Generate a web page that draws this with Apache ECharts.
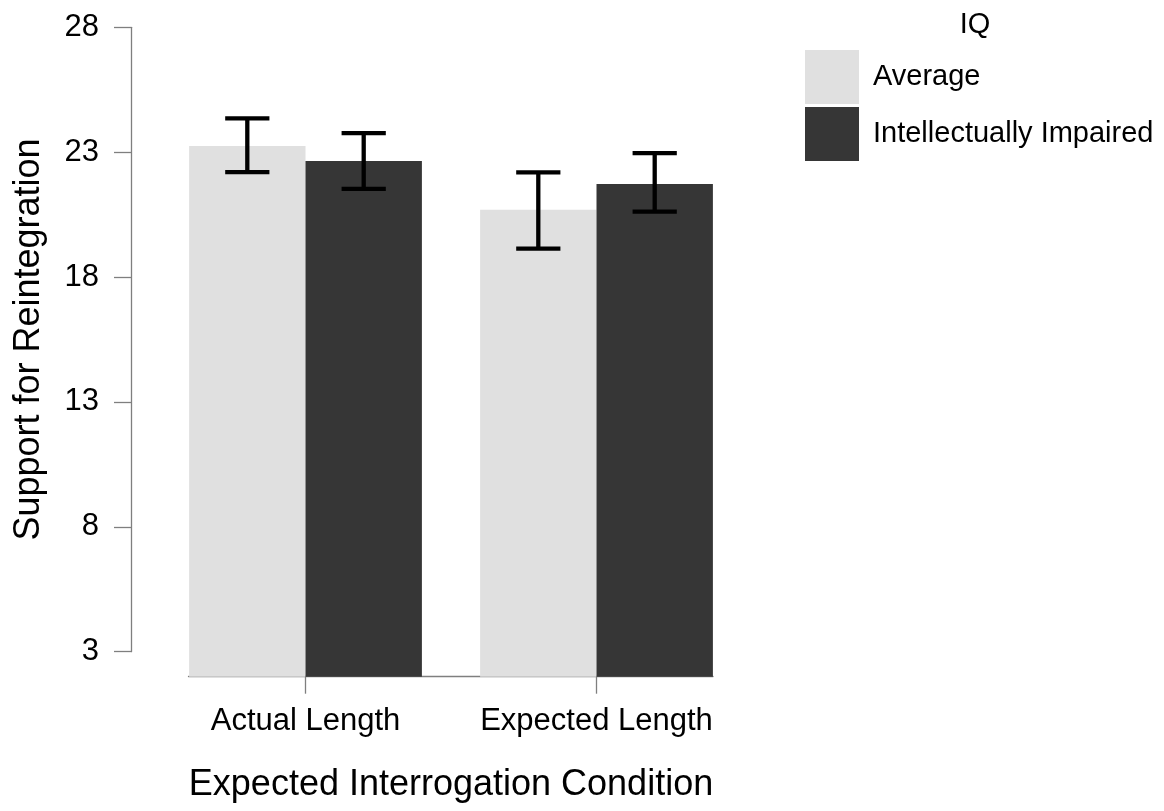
<!DOCTYPE html>
<html>
<head>
<meta charset="utf-8">
<script src="https://cdn.jsdelivr.net/npm/echarts@6/dist/echarts.min.js"></script>
<style>
  html, body { margin: 0; padding: 0; background: #fff; }
  #chart { width: 1164px; height: 811px; }
</style>
</head>
<body>
<div id="chart"></div>
<script>
// 数据
const conditions = ["Actual Length", "Expected Length"];
const groups = ["Average", "Intellectually Impaired"];
const avgMean = [23.25, 20.7];
const avgLower = [22.2, 19.14];
const avgUpper = [24.35, 22.19];
const iiMean = [22.65, 21.73];
const iiLower = [21.53, 20.62];
const iiUpper = [23.76, 22.96];
const yTicks = [3, 28, 5]; // min, max, interval

const font = "Liberation Sans";
const axisGray = "#7f7f7f";

// 误差线
const errorBar = (side) => (params, api) => {
  const x = api.value(0);
  const lo = api.coord([x, api.value(1)]);
  const hi = api.coord([x, api.value(2)]);
  const band = api.size([1, 0])[0];
  const cx = lo[0] + side * band * 0.2;
  const half = band * 0.076;
  const style = { stroke: "#000", lineWidth: 4.3 };
  return {
    type: "group",
    children: [
      { type: "line", shape: { x1: cx, y1: hi[1], x2: cx, y2: lo[1] }, style },
      { type: "line", shape: { x1: cx - half, y1: hi[1], x2: cx + half, y2: hi[1] }, style },
      { type: "line", shape: { x1: cx - half, y1: lo[1], x2: cx + half, y2: lo[1] }, style },
    ],
  };
};

const myChart = echarts.init(document.querySelector("#chart"));

myChart.setOption({
  animation: false,
  textStyle: { fontFamily: font },
  title: {
    text: "IQ",
    left: 975,
    top: 10,
    padding: 0,
    textAlign: "center",
    textStyle: { fontFamily: font, fontSize: 29, fontWeight: "normal", color: "#000" },
  },
  legend: {
    data: groups,
    orient: "vertical",
    left: 805,
    top: 50,
    padding: 0,
    itemWidth: 54,
    itemHeight: 54,
    itemGap: 3,
    icon: "rect",
    textStyle: { fontFamily: font, fontSize: 29, color: "#000", padding: [0, 0, 0, 9] },
  },
  grid: [
    // 柱子
    { left: 160, right: 422, top: 27.3, bottom: 134.3 },
    // y轴
    { left: 131, width: 10, top: 27.3, bottom: 159.3 },
    // x轴线
    { left: 188.5, right: 451, top: 27.3, bottom: 134.3 },
  ],
  xAxis: [
    {
      type: "category",
      gridIndex: 0,
      data: conditions,
      axisLine: { show: false },
      axisTick: { show: true, interval: 0, alignWithLabel: true, length: 17, lineStyle: { color: axisGray, width: 1.3 } },
      axisLabel: { interval: 0, fontFamily: font, fontSize: 31, color: "#000", margin: 29 },
      name: "Expected Interrogation Condition",
      nameLocation: "middle",
      nameGap: 90,
      nameTextStyle: { fontFamily: font, fontSize: 36, color: "#000" },
    },
    { type: "value", gridIndex: 1, show: false },
    {
      type: "value",
      gridIndex: 2,
      min: 0,
      max: 1,
      axisLine: { show: true, onZero: false, lineStyle: { color: axisGray, width: 1.3 } },
      axisTick: { show: false },
      axisLabel: { show: false },
      splitLine: { show: false },
    },
  ],
  yAxis: [
    { type: "value", gridIndex: 0, min: 2, max: 28, startValue: 2, show: false },
    {
      type: "value",
      gridIndex: 1,
      min: yTicks[0],
      max: yTicks[1],
      interval: yTicks[2],
      axisLine: { show: true, lineStyle: { color: axisGray, width: 1.3 } },
      axisTick: { show: true, length: 17, lineStyle: { color: axisGray, width: 1.3 } },
      axisLabel: { fontFamily: font, fontSize: 31, color: "#000", margin: 32 },
      splitLine: { show: false },
      name: "Support for Reintegration",
      nameLocation: "middle",
      nameGap: 84,
      nameTextStyle: { fontFamily: font, fontSize: 36, color: "#000" },
    },
    { type: "value", gridIndex: 2, min: 0, max: 1, show: false },
  ],
  series: [
    {
      name: groups[0],
      type: "bar",
      data: avgMean,
      barGap: 0,
      barCategoryGap: "20%",
      clip: true,
      itemStyle: { color: "#e0e0e0" },
    },
    {
      name: groups[1],
      type: "bar",
      data: iiMean,
      barGap: 0,
      barCategoryGap: "20%",
      clip: true,
      itemStyle: { color: "#363636" },
    },
    {
      type: "custom",
      renderItem: errorBar(-1),
      data: conditions.map((c, i) => [i, avgLower[i], avgUpper[i]]),
      z: 5,
    },
    {
      type: "custom",
      renderItem: errorBar(1),
      data: conditions.map((c, i) => [i, iiLower[i], iiUpper[i]]),
      z: 5,
    },
  ],
});
</script>
</body>
</html>
